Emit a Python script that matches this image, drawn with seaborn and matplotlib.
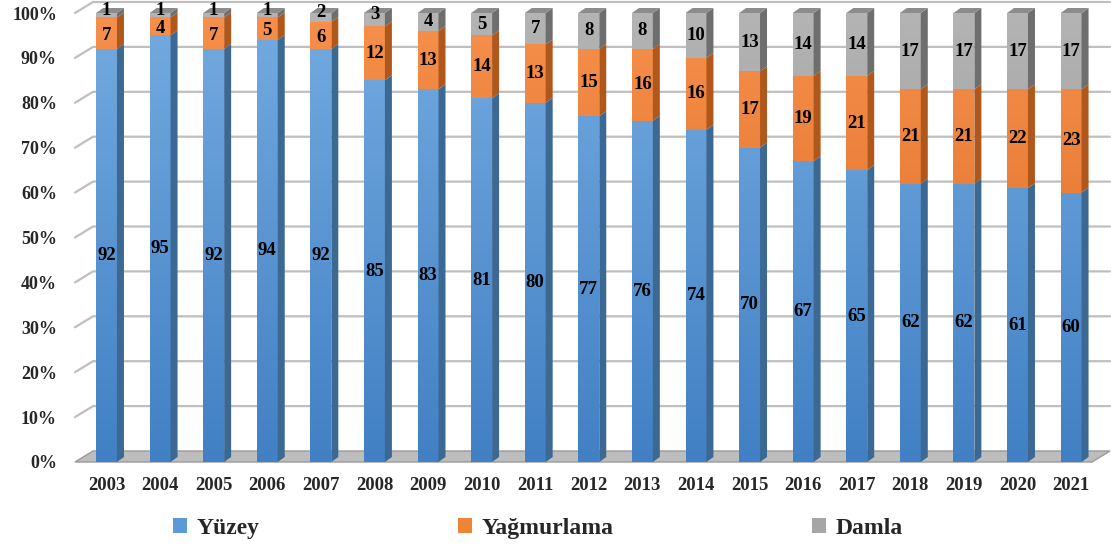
import numpy as np
import pandas as pd
import matplotlib
matplotlib.use("Agg")
import matplotlib.pyplot as plt
from matplotlib.patches import Patch, Polygon
from matplotlib.transforms import IdentityTransform
from matplotlib.colors import LinearSegmentedColormap
import seaborn as sns

# Data (percent share by irrigation method)
years = ["2003", "2004", "2005", "2006", "2007", "2008", "2009", "2010", "2011", "2012",
         "2013", "2014", "2015", "2016", "2017", "2018", "2019", "2020", "2021"]
yuzey = [92, 95, 92, 94, 92, 85, 83, 81, 80, 77, 76, 74, 70, 67, 65, 62, 62, 61, 60]
yagmurlama = [7, 4, 7, 5, 6, 12, 13, 14, 13, 15, 16, 16, 17, 19, 21, 21, 21, 22, 23]
damla = [1, 1, 1, 1, 2, 3, 4, 5, 7, 8, 8, 10, 13, 14, 14, 17, 17, 17, 17]
series_names = ["Yüzey", "Yağmurlama", "Damla"]

colors = {"Yüzey": "#5B9BD5", "Yağmurlama": "#EF8336", "Damla": "#A6A6A6"}
# bottom -> top shading of the front faces
shades = {"Yüzey": ("#4180C4", "#74ABE0"),
          "Yağmurlama": ("#D8661C", "#F6904C"),
          "Damla": ("#8C8C8C", "#B4B4B4")}
side_colors = {"Yüzey": "#3C6894", "Yağmurlama": "#B0581C", "Damla": "#6E6E6E"}
top_color = "#8C8C8C"

sns.set_style("white")
plt.rcParams["font.family"] = ["Liberation Serif", "DejaVu Serif"]
plt.rcParams["font.weight"] = "bold"

df = pd.DataFrame({"Yıl": years, "Yüzey": yuzey, "Yağmurlama": yagmurlama, "Damla": damla})
df["c1"] = df["Yüzey"]
df["c2"] = df["c1"] + df["Yağmurlama"]
df["c3"] = df["c2"] + df["Damla"]

W, H = 1111, 549
fig = plt.figure(figsize=(W / 100, H / 100), dpi=100)
ax_left, ax_right, ax_bottom, ax_top = 75, 1092, 462, 13
ax = fig.add_axes([ax_left / W, 1 - ax_bottom / H, (ax_right - ax_left) / W, (ax_bottom - ax_top) / H])

bar_w = 0.39
xlim = (-0.588, 18.39)
grad = np.linspace(0, 1, 256).reshape(-1, 1)

# classic seaborn stacking: tallest cumulative first, shorter on top
for k, (col, name) in enumerate([("c3", "Damla"), ("c2", "Yağmurlama"), ("c1", "Yüzey")]):
    n_before = len(ax.patches)
    sns.barplot(data=df, x="Yıl", y=col, order=years, color=colors[name], width=bar_w,
                saturation=1, errorbar=None, linewidth=0, ax=ax, zorder=3)
    cmap = LinearSegmentedColormap.from_list(name, shades[name])
    for p in ax.patches[n_before:]:
        x0 = p.get_x()
        im = ax.imshow(grad, cmap=cmap, origin="lower", aspect="auto",
                       extent=(x0, x0 + p.get_width(), 0, 100), zorder=3.1 + k * 0.1)
        im.set_clip_path(p)

ax.set_xlim(*xlim)
ax.set_ylim(0, 100)
ax.set_xlabel("")
ax.set_ylabel("")
for s in ax.spines.values():
    s.set_visible(False)
ax.patch.set_alpha(0)

ax.set_yticks(range(0, 101, 10))
ax.set_yticklabels([f"{v}%" for v in range(0, 101, 10)])
ax.tick_params(axis="y", length=0, pad=13, labelsize=13)
ax.tick_params(axis="x", length=0, pad=11, labelsize=13.5)

# pseudo-3D depth in pixels
dx, dy = 18, 11      # wall / floor depth
bx, by = 7, 5        # bar depth
ident = IdentityTransform()
to_px = ax.transData.transform

# back wall gridlines with left wall diagonal
for v in range(10, 101, 10):
    (x0, y0), = to_px([(xlim[0], v)])
    (x1, _), = to_px([(xlim[1], v)])
    ax.plot([x0, x0 + dx, x1 + dx], [y0, y0 + dy, y0 + dy], color="#BFBFBF", lw=1.6,
            transform=ident, clip_on=False, zorder=0)

# floor
(fx0, fy0), = to_px([(xlim[0], 0)])
(fx1, _), = to_px([(xlim[1], 0)])
ax.add_patch(Polygon([(fx0, fy0), (fx1, fy0), (fx1 + dx, fy0 + dy), (fx0 + dx, fy0 + dy)],
                     closed=True, facecolor="#BDBDBD", edgecolor="#9A9A9A", lw=1,
                     transform=ident, clip_on=False, zorder=1))

# side and top faces of each bar segment, plus labels
for i in range(len(years)):
    bounds = [(0, df["c1"][i], "Yüzey"), (df["c1"][i], df["c2"][i], "Yağmurlama"),
              (df["c2"][i], df["c3"][i], "Damla")]
    for lo, hi, name in bounds:
        (xr, ylo), (_, yhi) = to_px([(i + bar_w / 2, lo), (i + bar_w / 2, hi)])
        ax.add_patch(Polygon([(xr, ylo), (xr + bx, ylo + by), (xr + bx, yhi + by), (xr, yhi)],
                             closed=True, facecolor=side_colors[name], lw=0,
                             transform=ident, clip_on=False, zorder=3.5))
        val = hi - lo
        # thin top segments get their label lifted a little, as in the original
        lift = 5 if (name == "Damla" and val <= 3) else (-2 if name == "Yağmurlama" and val <= 7 else 0)
        ax.annotate(f"{val}", xy=(i, (lo + hi) / 2), xytext=(0, lift), textcoords="offset pixels",
                    ha="center", va="center", fontsize=13.5, fontweight="bold",
                    color="black", zorder=5, annotation_clip=False)
    (xl, yt), (xr, _) = to_px([(i - bar_w / 2, 100), (i + bar_w / 2, 100)])
    ax.add_patch(Polygon([(xl, yt), (xr, yt), (xr + bx, yt + by), (xl + bx, yt + by)],
                         closed=True, facecolor=top_color, lw=0,
                         transform=ident, clip_on=False, zorder=3.5))

handles = [Patch(facecolor=colors[n], edgecolor="none") for n in series_names]
fig.legend(handles, series_names, loc="center", bbox_to_anchor=(0.484, 0.038), ncol=3,
           frameon=False, prop={"size": 17, "weight": "bold"}, handlelength=0.6,
           handleheight=0.6, handletextpad=0.4, columnspacing=8.4)

fig.savefig("out.png", dpi=100)
